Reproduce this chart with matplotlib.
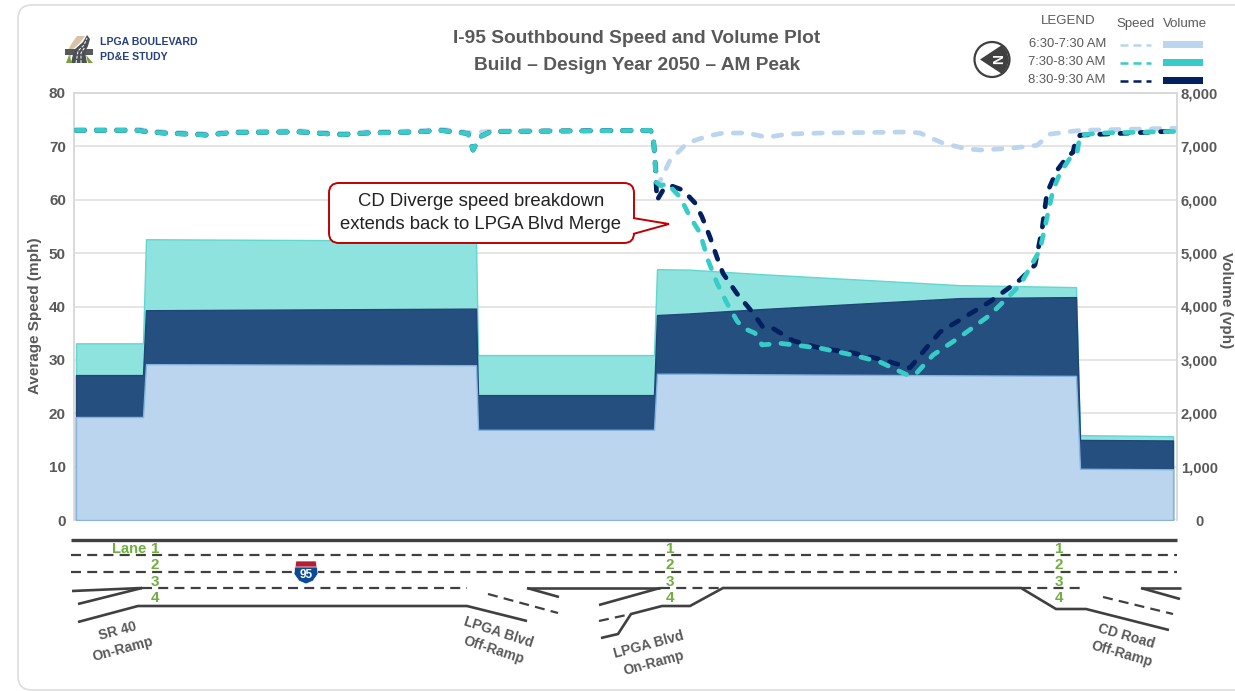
import matplotlib
matplotlib.use('Agg')
import matplotlib.pyplot as plt
from matplotlib.patches import Circle, FancyBboxPatch, Polygon

W, H = 1235, 691
plt.rcParams['font.family'] = ['Liberation Sans', 'DejaVu Sans']

GREY = '#595959'
ROAD = '#404040'
GREEN = '#6fae3f'
LIGHT = '#bcd5ee'
TEAL = '#38ccc8'
NAVY = '#00205f'

# Volume by station (vph)
vol_x = [2, 69, 72, 402, 404, 580, 583, 616, 686, 886, 1002, 1006, 1099]
vol_teal = [3310, 3310, 5260, 5230, 3090, 3090, 4700, 4690, 4607, 4400, 4363, 1590, 1570]
vol_navy = [2715, 2715, 3930, 3960, 2340, 2340, 3840, 3870, 3950, 4157, 4176, 1500, 1490]
vol_light = [1930, 1930, 2920, 2900, 1690, 1690, 2740, 2740, 2730, 2710, 2700, 960, 950]

# Speed by station (mph)
left_x = [2, 26, 64, 71, 89, 126, 133, 143, 159, 226, 249, 269, 293, 343, 366, 386, 394, 399, 406, 416, 426,
          576, 579, 581, 582]
left_mph = [73.0, 73.0, 73.0, 72.8, 72.5, 72.2, 72.1, 72.3, 72.6, 72.7, 72.4, 72.2, 72.5, 72.7, 73.0, 72.6,
            72.4, 69.3, 71.8, 72.7, 72.8, 73.0, 72.5, 67.4, 63.3]

teal_x = left_x + [587, 593, 606, 616, 626, 634, 643, 653, 663, 669, 681, 688, 706, 746, 779, 806, 833, 841,
                   859, 886, 916, 946, 966, 972, 979, 986, 996, 1003, 1006, 1026, 1103]
teal_mph = left_mph + [62.6, 63.1, 60.5, 56.8, 53.8, 48.7, 44.4, 40.6, 37.3, 36.0, 35.0, 32.8, 33.1, 32.2,
                       30.9, 29.6, 27.2, 27.2, 30.9, 34.3, 38.4, 44.0, 50.6, 55.8, 61.8, 65.0, 67.8, 68.7,
                       72.1, 72.5, 72.8]

navy_x = left_x + [583, 589, 596, 609, 621, 628, 636, 643, 649, 663, 679, 689, 699, 719, 746, 779, 809, 836,
                   853, 866, 886, 916, 946, 961, 968, 973, 983, 993, 999, 1001, 1006, 1093, 1103]
navy_mph = left_mph + [59.9, 61.8, 62.7, 61.8, 59.4, 56.8, 53.0, 49.2, 46.2, 42.4, 38.8, 36.1, 35.9, 33.6,
                       32.2, 31.3, 30.0, 28.5, 32.4, 35.2, 37.5, 40.9, 45.0, 47.8, 54.4, 61.3, 65.5, 68.0,
                       68.9, 70.6, 72.1, 72.8, 72.8]

light_x = [2, 26, 64, 71, 89, 126, 133, 143, 159, 226, 249, 269, 293, 343, 366, 386, 394, 406, 426, 576, 579,
           581, 584, 596, 613, 633, 649, 673, 693, 713, 746, 836, 846, 869, 893, 909, 939, 963, 976, 1006, 1103]
light_mph = [73.2, 73.2, 73.2, 73.0, 72.7, 72.4, 72.3, 72.5, 72.8, 72.9, 72.6, 72.4, 72.7, 72.9, 73.2, 72.8,
             72.6, 72.7, 72.9, 73.0, 72.5, 67.4, 62.7, 67.4, 70.6, 71.9, 72.5, 72.5, 71.7, 72.3, 72.5, 72.7,
             72.5, 70.6, 69.5, 69.3, 69.7, 70.2, 72.3, 73.0, 73.4]

speed_ticks = [0, 10, 20, 30, 40, 50, 60, 70, 80]
volume_ticks = [0, 1000, 2000, 3000, 4000, 5000, 6000, 7000, 8000]

# Legend
legend_labels = ['6:30-7:30 AM', '7:30-8:30 AM', '8:30-9:30 AM']
legend_colors = [LIGHT, TEAL, NAVY]

fig = plt.figure(figsize=(W / 100, H / 100), dpi=100, facecolor='white')

# Overlay in image pixels for the card, the header and the road schematic
bg = fig.add_axes([0, 0, 1, 1], zorder=0)
bg.set_xlim(0, W)
bg.set_ylim(H, 0)
bg.axis('off')
bg.add_patch(FancyBboxPatch((18, 5), 1300, 685, boxstyle='round,pad=0,rounding_size=14',
                            fc='white', ec='#dddddd', lw=1.2))

# Main chart
ax = fig.add_axes([74 / W, 1 - 520 / H, 1103 / W, 427 / H], zorder=1)
ax.patch.set_alpha(0)
ax2 = ax.twinx()
ax.set_xlim(0, 1103)
ax.set_ylim(0, 80)
ax2.set_ylim(0, 8000)

ax2.fill_between(vol_x, vol_teal, color='#8fe3de', lw=1, edgecolor='#62d6cf', zorder=1)
ax2.fill_between(vol_x, vol_navy, color='#244f7f', lw=1, edgecolor='#1f4677', zorder=2)
ax2.fill_between(vol_x, vol_light, color=LIGHT, lw=1, edgecolor='#86b4de', zorder=3)
ax2.set_yticks(volume_ticks)
ax2.set_yticklabels([f'{v:,}' for v in volume_ticks])

# Speeds share the volume axes so they sit over the areas (1 mph = 100 on this scale)
dash = (0, (1.8, 2.5))
ax2.plot(light_x, [v * 100 for v in light_mph], color=LIGHT, lw=3.4, ls=dash, dash_capstyle='round', zorder=5)
ax2.plot(navy_x, [v * 100 for v in navy_mph], color=NAVY, lw=3.4, ls=dash, dash_capstyle='round', zorder=6)
ax2.plot(teal_x, [v * 100 for v in teal_mph], color=TEAL, lw=3.4, ls=dash, dash_capstyle='round', zorder=7)

ax.set_yticks(speed_ticks)
ax.set_xticks([])
ax.grid(axis='y', color='#e0e0e0', lw=1.2)
ax.set_axisbelow(True)
for a in (ax, ax2):
    for side in ('left', 'right', 'top'):
        a.spines[side].set_color('#d9d9d9')
        a.spines[side].set_linewidth(1.2)
    a.spines['bottom'].set_visible(False)
ax.tick_params(axis='y', length=0, pad=5.8, labelsize=11, labelcolor=GREY)
ax2.tick_params(axis='y', length=0, pad=16, labelsize=10.7, labelcolor=GREY)
for t in ax.get_yticklabels():
    t.set_fontweight('bold')
for t in ax2.get_yticklabels():
    t.set_fontweight('bold')
    t.set_ha('center')

# Everything else on top, in pixels
ov = fig.add_axes([0, 0, 1, 1], zorder=3)
ov.set_xlim(0, W)
ov.set_ylim(H, 0)
ov.axis('off')
ov.patch.set_alpha(0)

ov.text(35, 316, 'Average Speed (mph)', rotation=90, ha='center', va='center',
        color=GREY, fontsize=11, fontweight='bold')
ov.text(1226, 300, 'Volume (vph)', rotation=270, ha='center', va='center',
        color=GREY, fontsize=11, fontweight='bold')

ov.text(637, 38, 'I-95 Southbound Speed and Volume Plot', ha='center', va='center',
        color=GREY, fontsize=13.8, fontweight='bold')
ov.text(637, 65, 'Build – Design Year 2050 – AM Peak', ha='center', va='center',
        color=GREY, fontsize=13.8, fontweight='bold')

# Logo
ov.add_patch(Polygon([(70, 63), (72, 50), (80, 43), (85, 36), (77, 36), (72, 43), (68, 50)],
                     fc='#d9c2a6', ec='none'))
ov.add_patch(Polygon([(65, 49), (93, 49), (93, 55), (65, 55)], fc='#55595c', ec='none'))
ov.add_patch(Polygon([(71, 63), (74, 50), (83, 42), (87, 35), (90, 39), (88, 46), (85, 52), (87, 63)],
                     fc='#4c5054', ec='none'))
ov.plot([76, 78, 84, 87], [63, 51, 45, 38], color='white', lw=0.7, ls=(0, (3, 1.5)))
ov.plot([81, 81, 85], [63, 53, 47], color='white', lw=0.7, ls=(0, (3, 1.5)))
ov.add_patch(Polygon([(66, 63), (69, 55), (72, 63)], fc='#7da13c', ec='none'))
ov.add_patch(Polygon([(86, 55), (93, 63), (88, 63)], fc='#7da13c', ec='none'))
ov.text(100, 42, 'LPGA BOULEVARD', ha='left', va='center', color='#24407e', fontsize=7.6, fontweight='bold')
ov.text(100, 56.5, 'PD&E STUDY', ha='left', va='center', color='#24407e', fontsize=7.6, fontweight='bold')

# North arrow
ov.add_patch(Circle((992, 59.5), 17.5, fc='white', ec='#404040', lw=1.6))
ov.add_patch(Polygon([(980, 59.5), (1002, 45), (1007, 52), (1009, 60), (1007, 67), (1002, 74)],
                     fc='#404040', ec='none'))
ov.text(999.5, 59.5, 'N', rotation=90, ha='center', va='center', color='white', fontsize=10, fontweight='bold')

# Legend
ov.text(1068, 21, 'LEGEND', ha='center', va='center', color=GREY, fontsize=9.5)
ov.text(1136, 24, 'Speed', ha='center', va='center', color=GREY, fontsize=9.5)
ov.text(1185, 24, 'Volume', ha='center', va='center', color=GREY, fontsize=9.5)
for i, (lab, col) in enumerate(zip(legend_labels, legend_colors)):
    y = 44 + 18 * i
    ov.text(1106, y, lab, ha='right', va='center', color=GREY, fontsize=9.4)
    ov.plot([1120, 1151], [y + 0.5, y + 0.5], color=col, lw=1.8, ls=(0, (3.2, 2.0)))
    ov.add_patch(Polygon([(1163, y - 3), (1203, y - 3), (1203, y + 4), (1163, y + 4)], fc=col, ec='none'))

# Callout
ov.add_patch(FancyBboxPatch((329, 183), 305, 60, boxstyle='round,pad=0,rounding_size=10',
                            fc='white', ec='#c00000', lw=1.4, zorder=8))
ov.add_patch(Polygon([(633, 218), (669, 224), (633, 234)], closed=False, fc='white', ec='#c00000',
                     lw=1.4, zorder=9))
ov.text(481, 213, 'CD Diverge speed breakdown\nextends back to LPGA Blvd Merge', ha='center', va='center',
        color='#222222', fontsize=13.3, linespacing=1.42, zorder=10)

# Road schematic
solid = [
    [(72, 591), (142, 588)],
    [(78, 604), (142, 588)],
    [(78, 622), (138, 606), (467, 606), (527, 621)],
    [(527, 588), (660, 588)],
    [(527, 588), (559, 597)],
    [(599, 605), (660, 588)],
    [(601, 638), (618, 634), (631, 614), (662, 606), (690, 606), (723, 588), (1021, 588),
     (1056, 609), (1086, 609), (1169, 630)],
    [(1141, 588), (1181, 588)],
    [(1141, 588), (1180, 599)],
]
dashed = [
    [(71, 555), (1177, 555)],
    [(71, 572), (1177, 572)],
    [(142, 588), (467, 588)],
    [(488, 594), (558, 613)],
    [(660, 588), (722, 588)],
    [(599, 621), (631, 614)],
    [(1021, 588), (1080, 588)],
    [(1103, 597), (1173, 614)],
]
for seg in solid:
    ov.plot(*zip(*seg), color=ROAD, lw=1.9, solid_joinstyle='miter', solid_capstyle='butt')
ov.plot([71, 1177], [540, 540], color=ROAD, lw=2.4, solid_capstyle='butt')
for seg in dashed:
    ov.plot(*zip(*seg), color=ROAD, lw=1.6, ls=(0, (4.5, 2.8)))

for lane_x in (155, 670, 1059):
    for lane, y in zip('1234', (549, 565, 582, 598)):
        ov.text(lane_x, y, lane, ha='center', va='center', color=GREEN, fontsize=11,
                fontweight='bold', zorder=6)
ov.text(129, 549, 'Lane', ha='center', va='center', color=GREEN, fontsize=10.5, fontweight='bold', zorder=6)

# I-95 shield
ov.add_patch(Polygon([(295, 566), (317, 566), (318, 574), (313, 581), (306, 584), (299, 581), (294, 574)],
                     fc='#0b4a94', ec='white', lw=0.5, zorder=6))
ov.add_patch(Polygon([(296, 561), (316, 561), (317, 567), (295, 567)], fc='#b51f36', ec='white', lw=0.5, zorder=6))
ov.text(306, 574.5, '95', ha='center', va='center', color='white', fontsize=8.5, fontweight='bold', zorder=7)

# Ramp labels
ramp_labels = [('SR 40\nOn-Ramp', 120, 640, 15), ('LPGA Blvd\nOff-Ramp', 496, 641, -18),
               ('LPGA Blvd\nOn-Ramp', 651, 654, 15), ('CD Road\nOff-Ramp', 1124, 645, -16)]
for lab, x, y, rot in ramp_labels:
    ov.text(x, y, lab, rotation=rot, rotation_mode='anchor', ha='center', va='center', color=GREY,
            fontsize=10, fontweight='bold', linespacing=1.45)

fig.savefig('out.png', dpi=100)
